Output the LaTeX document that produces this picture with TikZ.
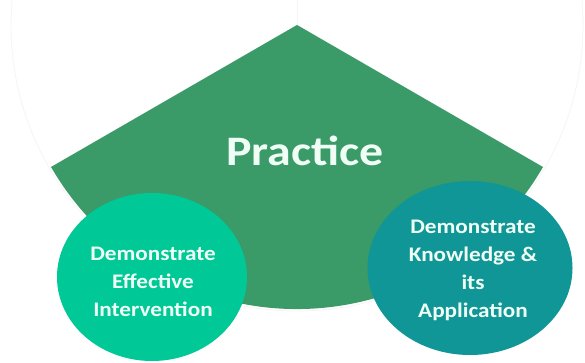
\documentclass[tikz,border=0pt]{standalone}
\usepackage{fontspec}
\setmainfont{Carlito}
\usetikzlibrary{shapes.geometric}
\definecolor{piegreen}{HTML}{3A9A68}
\definecolor{leftc}{HTML}{00C896}
\definecolor{rightc}{HTML}{109696}
\definecolor{txt}{HTML}{F0FFF6}
\definecolor{faint}{HTML}{F5F5F5}
\tikzset{
  bubble/.style={ellipse, inner sep=0pt},
  bubbletext/.style={text=txt, align=center, anchor=base,
    font=\bfseries\fontsize{20.7}{28}\selectfont},
  faintline/.style={faint, line width=0.8pt},
}
\begin{document}
\begin{tikzpicture}[x=1pt,y=-1pt]
\useasboundingbox (0,0) rectangle (585,362);
\fill[white] (0,0) rectangle (585,362);
\coordinate (c) at (297,25);
% faint outline of the full pie
\draw[faintline] (c) circle[radius=286];
\draw[faintline] (c) -- ++(30:286);
\draw[faintline] (c) -- ++(150:286);
\draw[faintline] (c) -- ++(270:286);
% green sector
\fill[piegreen] (c) -- ++(30:284) arc[start angle=30, end angle=150, radius=284] -- cycle;
\node[text=txt, anchor=base, font=\bfseries\fontsize{42}{50}\selectfont] (practice) at (305,165)
  {\scalebox{1.14}[1]{Practice}};
% bubbles
\node[bubble, fill=leftc, minimum width=190pt, minimum height=168pt] (left) at (152,277) {};
\node[bubble, fill=rightc, minimum width=205pt, minimum height=174pt] (right) at (470,268) {};
\node[bubbletext] (lt) at (153,316) {\scalebox{1.12}[1]{Demonstrate}\\\scalebox{1.12}[1]{Effective}\\\scalebox{1.12}[1]{Intervention}};
\node[bubbletext] (rt) at (473,317) {\scalebox{1.12}[1]{Demonstrate}\\\scalebox{1.12}[1]{Knowledge \&}\\\scalebox{1.12}[1]{its}\\\scalebox{1.12}[1]{Application}};
\end{tikzpicture}
\end{document}
